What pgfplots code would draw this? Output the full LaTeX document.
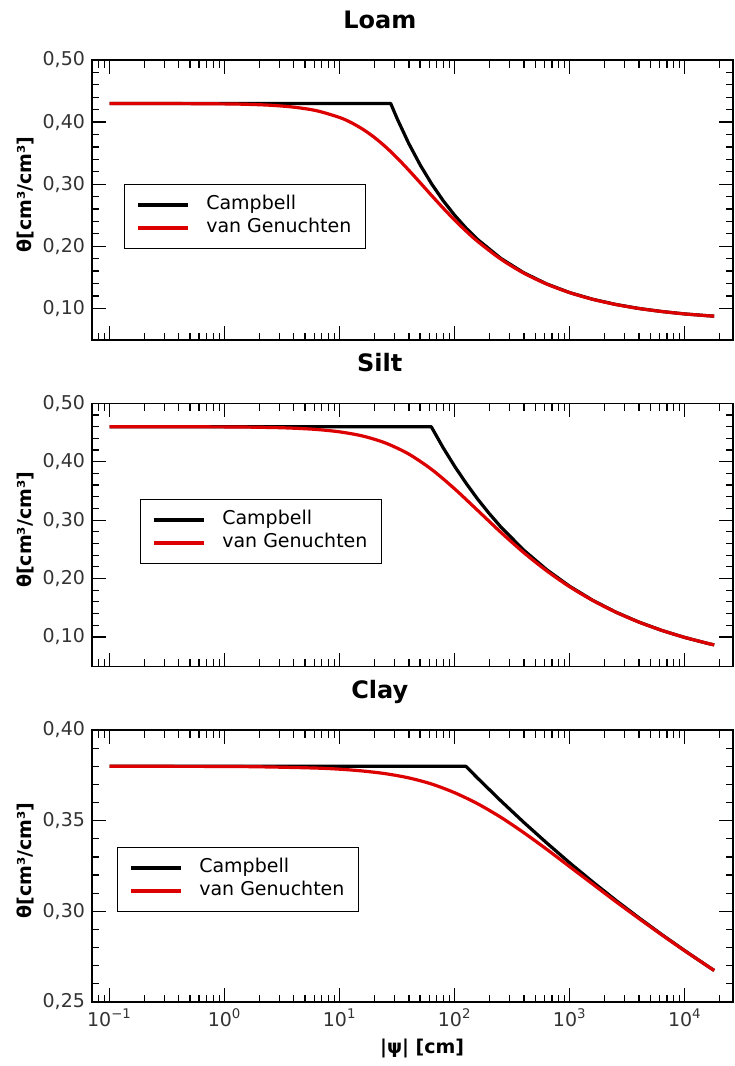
\documentclass[border=0pt]{standalone}
\usepackage{fontspec}
\setmainfont{DejaVu Sans}
\usepackage{pgfplots}
\pgfplotsset{compat=1.18}
\definecolor{vgred}{HTML}{DD0000}
\definecolor{ticktext}{HTML}{333333}

\pgfplotsset{
  soil/.style={
    scale only axis, width=320.5pt,
    xmin=0.0704, xmax=26220,
    xtick={0.1,1,10,100,1000,10000},
    minor xtick={0.08,0.09,0.2,0.3,0.4,0.5,0.6,0.7,0.8,0.9,2,3,4,5,6,7,8,9,
      20,30,40,50,60,70,80,90,200,300,400,500,600,700,800,900,
      2000,3000,4000,5000,6000,7000,8000,9000,20000},
    minor y tick num=4,
    tick align=inside,
    major tick length=7pt, minor tick length=3.75pt,
    every tick/.append style={black, line width=0.6pt},
    axis line style={line width=0.6pt},
    tick label style={font=\fontsize{9.5}{11}\selectfont, text=ticktext},
    yticklabel style={/pgf/number format/fixed, /pgf/number format/fixed zerofill,
      /pgf/number format/precision=2, /pgf/number format/use comma,
      /pgf/number format/assume math mode=true},
    ylabel={\bfseries θ[cm³/cm³]},
    ylabel style={font=\fontsize{9.5}{11}\selectfont,
      at={(axis description cs:-0.1045,0.52)}, anchor=center},
    title style={font=\bfseries\fontsize{12}{14}\selectfont,
      at={(axis description cs:0.449,1)}, anchor=base, yshift=10pt},
    legend cell align=left,
    legend style={font=\fontsize{9.5}{11}\selectfont, draw=black, line width=0.5pt,
      anchor=north west, inner xsep=6pt, inner ysep=4.5pt, row sep=0pt,
      nodes={inner sep=1pt, text height=7pt, text depth=2.5pt},
      /tikz/every odd column/.append style={column sep=7.3pt}},
    legend image code/.code={\draw[#1] (0pt,0pt) -- (25pt,0pt);},
  },
  camp/.style={black, line width=1.6pt, line join=round},
  vg/.style={vgred, line width=1.6pt, line join=round, smooth, tension=0.5},
}

\begin{document}
\begin{tikzpicture}

% Loam
\begin{semilogxaxis}[soil, at={(0pt,0pt)}, anchor=north west, height=140pt,
  ymin=0.049, ymax=0.50, ytick={0.1,0.2,0.3,0.4,0.5},
  xticklabels={}, title={Loam},
  legend style={at={(0.0499,0.557)}}]
\addplot[camp] coordinates {
  (0.1,0.4300)(27.78,0.4300)(31.62,0.4054)(39.81,0.3658)(50.12,0.3309)
  (63.10,0.3003)(79.43,0.2734)(100,0.2498)(125.9,0.2290)(158.5,0.2108)
  (251.2,0.1806)(398.1,0.1573)(631.0,0.1393)(1000,0.1253)(1585,0.1146)
  (2512,0.1063)(3981,0.0998)(6310,0.0949)(10000,0.0910)(15850,0.0881)(18000,0.0874)};
\addplot[vg] coordinates {
  (0.1,0.4300)(0.3162,0.4299)(1,0.4293)(1.585,0.4286)(2.512,0.4271)
  (3.981,0.4241)(6.310,0.4183)(10,0.4074)(12.59,0.3992)(15.85,0.3886)
  (19.95,0.3756)(25.12,0.3600)(31.62,0.3422)(39.81,0.3227)(50.12,0.3023)
  (63.10,0.2816)(79.43,0.2614)(100,0.2421)(125.9,0.2242)(158.5,0.2077)
  (251.2,0.1794)(398.1,0.1568)(631.0,0.1391)(1000,0.1253)(1585,0.1145)
  (2512,0.1062)(3981,0.0998)(6310,0.0949)(10000,0.0910)(15850,0.0881)(18000,0.0874)};
\legend{Campbell, van Genuchten}
\end{semilogxaxis}

% Silt
\begin{semilogxaxis}[soil, at={(0pt,-171.65pt)}, anchor=north west, height=131.7pt,
  ymin=0.049, ymax=0.50, ytick={0.1,0.2,0.3,0.4,0.5},
  xticklabels={}, title={Silt},
  legend style={at={(0.0749,0.637)}}]
\addplot[camp] coordinates {
  (0.1,0.4600)(62.5,0.4600)(79.43,0.4238)(100,0.3920)(125.9,0.3628)
  (158.5,0.3358)(199.5,0.3113)(251.2,0.2885)(398.1,0.2486)(631.0,0.2150)
  (1000,0.1866)(1585,0.1627)(2512,0.1425)(3981,0.1255)(6310,0.1111)
  (10000,0.0990)(15850,0.0888)(18000,0.0864)};
\addplot[vg] coordinates {
  (0.1,0.4600)(1,0.4596)(2.512,0.4586)(3.981,0.4574)(6.310,0.4552)
  (10,0.4511)(15.85,0.4440)(25.12,0.4319)(39.81,0.4132)(63.10,0.3867)
  (100,0.3534)(158.5,0.3165)(251.2,0.2793)(398.1,0.2444)(631.0,0.2131)
  (1000,0.1858)(1585,0.1624)(2512,0.1424)(3981,0.1255)(6310,0.1112)
  (10000,0.0991)(15850,0.0889)(18000,0.0864)};
\legend{Campbell, van Genuchten}
\end{semilogxaxis}

% Clay
\begin{semilogxaxis}[soil, at={(0pt,-335pt)}, anchor=north west, height=136pt,
  ymin=0.25, ymax=0.40, ytick={0.25,0.30,0.35,0.40},
  xticklabels={10\textsuperscript{−1},10\textsuperscript{0},10\textsuperscript{1},
    10\textsuperscript{2},10\textsuperscript{3},10\textsuperscript{4}},
  xlabel={\bfseries |ψ| [cm]},
  xlabel style={font=\fontsize{9.5}{11}\selectfont,
    at={(axis description cs:0.515,0)}, anchor=base, yshift=-25.5pt},
  title={Clay},
  legend style={at={(0.039,0.570)}}]
\addplot[camp] coordinates {
  (0.1,0.3800)(125,0.3800)(158.5,0.3734)(251.2,0.3610)(398.1,0.3491)
  (631.0,0.3377)(1000,0.3267)(1585,0.3162)(2512,0.3061)(3981,0.2965)
  (6310,0.2872)(10000,0.2783)(15850,0.2697)(18000,0.2674)};
\addplot[vg] coordinates {
  (0.1,0.3800)(1,0.3799)(2.512,0.3796)(6.310,0.3790)(10,0.3784)
  (15.85,0.3774)(25.12,0.3759)(39.81,0.3736)(63.10,0.3702)(100,0.3654)
  (158.5,0.3593)(251.2,0.3519)(398.1,0.3434)(631.0,0.3342)(1000,0.3246)
  (1585,0.3150)(2512,0.3054)(3981,0.2961)(6310,0.2870)(10000,0.2782)
  (15850,0.2697)(18000,0.2674)};
\legend{Campbell, van Genuchten}
\end{semilogxaxis}

\path (-46pt,30pt) rectangle (321pt,-503pt);
\end{tikzpicture}
\end{document}
